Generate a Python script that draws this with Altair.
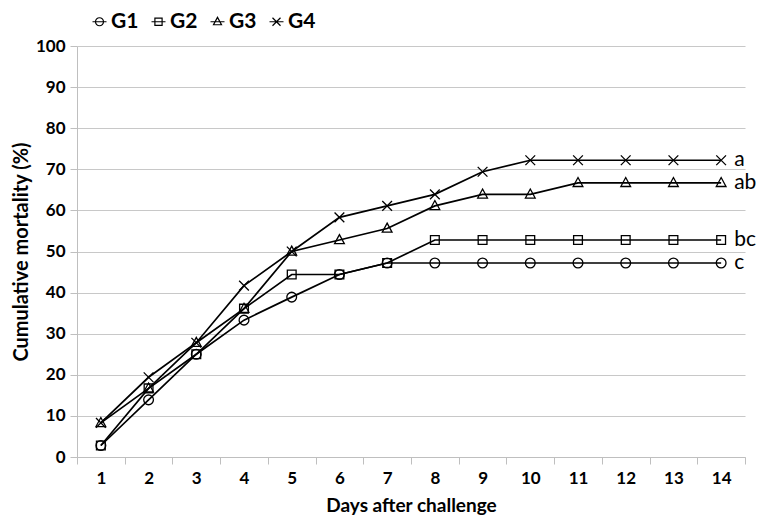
import altair as alt
import pandas as pd

days = list(range(1, 15))
groups = ["G1", "G2", "G3", "G4"]
g1 = [2.8, 13.9, 25.0, 33.3, 38.9, 44.4, 47.2, 47.2, 47.2, 47.2, 47.2, 47.2, 47.2, 47.2]
g2 = [2.8, 16.7, 25.0, 36.1, 44.4, 44.4, 47.2, 52.8, 52.8, 52.8, 52.8, 52.8, 52.8, 52.8]
g3 = [8.3, 16.7, 27.8, 36.1, 50.0, 52.8, 55.6, 61.1, 63.9, 63.9, 66.7, 66.7, 66.7, 66.7]
g4 = [8.3, 19.4, 27.8, 41.7, 50.0, 58.3, 61.1, 63.9, 69.4, 72.2, 72.2, 72.2, 72.2, 72.2]
letters = ["c", "bc", "ab", "a"]

rows = []
for g, vals, lab in zip(groups, [g1, g2, g3, g4], letters):
    for d, v in zip(days, vals):
        rows.append({"day": d, "mortality": v, "group": g,
                     "label": lab if d == days[-1] else ""})
df = pd.DataFrame(rows)

circle = "M1,0A1,1 0 1,1 -1,0A1,1 0 1,1 1,0Z"
square = "M-0.9,-0.9H0.9V0.9H-0.9Z"
triangle = "M0,-1.1L1,0.75H-1Z"
xshape = "M-1,-1L1,1M-1,1L1,-1"
bar = "M-1.75,0H1.75"
point_shapes = [circle, square, triangle, xshape]
legend_shapes = [bar + s for s in point_shapes]

FONT = "Lato"

x = alt.X("day:O",
          scale=alt.Scale(type="band", paddingInner=0, paddingOuter=0),
          axis=alt.Axis(title="Days after challenge", labelAngle=0, tickBand="extent",
                        grid=False, tickSize=7, labelPadding=6, titlePadding=10,
                        titleFontSize=19))
y = alt.Y("mortality:Q",
          scale=alt.Scale(domain=[0, 100], nice=False),
          axis=alt.Axis(title="Cumulative mortality (%)", values=list(range(0, 101, 10)),
                        grid=True, tickSize=7, labelPadding=5, titlePadding=4,
                        titleFontSize=20))

base = alt.Chart(df).encode(x=x, y=y)

lines = base.mark_line(color="black", strokeWidth=1.7).encode(detail="group:N")
points = base.mark_point(filled=False, color="black", size=95, strokeWidth=1.3, opacity=1).encode(
    shape=alt.Shape("group:N", scale=alt.Scale(domain=groups, range=point_shapes), legend=None)
)
labels = base.transform_filter(alt.datum.label != "").mark_text(
    align="left", baseline="middle", dx=13, fontSize=21, font=FONT, color="black"
).encode(text="label:N")

legend_layer = base.mark_point(filled=False, color="black", size=64, opacity=0).encode(
    shape=alt.Shape("group:N", scale=alt.Scale(domain=groups, range=legend_shapes),
                    legend=alt.Legend(title=None, orient="none", direction="horizontal",
                                      legendX=12, legendY=-35, symbolOpacity=1,
                                      symbolSize=64, symbolStrokeColor="black",
                                      symbolStrokeWidth=1.2, symbolFillColor="transparent",
                                      labelFont=FONT, labelFontWeight="bold", labelFontSize=21,
                                      labelColor="black", columnPadding=9, labelOffset=1))
)

chart = alt.layer(lines, points, labels, legend_layer).resolve_scale(shape="independent").properties(
    width=668, height=411,
    padding={"left": 3, "top": 3, "right": 0, "bottom": 0}
).configure_axis(
    labelFont=FONT, labelFontWeight="bold", labelFontSize=17, labelColor="black",
    titleFont=FONT, titleFontWeight="bold", titleColor="black",
    domainColor="#BFBFBF", tickColor="#BFBFBF", gridColor="#C8C8C8", gridWidth=1.2
).configure_view(stroke=None)

chart.save("out.html", embed_options={"renderer": "svg", "actions": False})
